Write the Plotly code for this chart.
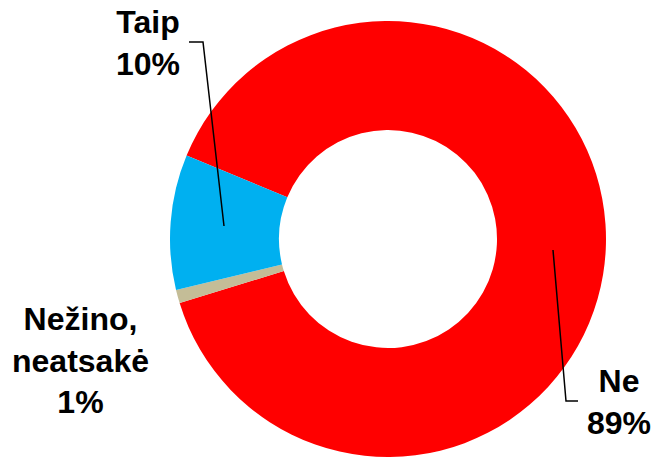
import plotly.graph_objects as go

labels = ["Ne", "Nežino,<br>neatsakė", "Taip"]
values = [89, 1, 10]
colors = ["#FF0000", "#C4BD97", "#00B0F0"]

W, H = 654, 459

def px(x):
    return x / W

def py(y):
    return 1 - y / H

fig = go.Figure()
fig.add_trace(go.Pie(
    labels=labels, values=values, sort=False, direction="clockwise",
    rotation=292.5, hole=0.5, textinfo="none", hoverinfo="label+percent",
    marker=dict(colors=colors, line=dict(width=0)),
    domain=dict(x=[px(170), px(606)], y=[py(457), py(21)]),
    showlegend=False,
))

# label positions (pixel centres) for each category, in data order
label_pos = [(619, 402), (80, 360), (148, 43)]
total = sum(values)
for lab, val, (lx, ly) in zip(labels, values, label_pos):
    fig.add_annotation(
        x=px(lx), y=py(ly), xref="paper", yref="paper",
        text=f"{lab}<br>{round(100 * val / total)}%", showarrow=False,
        font=dict(family="Liberation Sans, Arial", size=32, color="black"),
        align="center", xanchor="center", yanchor="middle",
    )

# leader lines
leaders = [
    [(553, 250), (566, 401), (578, 401)],
    [(224, 226), (203, 42), (189, 42)],
]
for pts in leaders:
    path = "M " + " L ".join(f"{px(x)} {py(y)}" for x, y in pts)
    fig.add_shape(type="path", path=path, xref="paper", yref="paper",
                  line=dict(color="black", width=1.5))

fig.update_layout(
    width=W, height=H, margin=dict(l=0, r=0, t=0, b=0),
    paper_bgcolor="white", plot_bgcolor="white",
    font=dict(family="Liberation Sans, Arial"),
)
fig.update_annotations(font_weight="bold")
fig.write_html("out.html", config={"displayModeBar": False},
               post_script="document.body.style.margin='0';")
